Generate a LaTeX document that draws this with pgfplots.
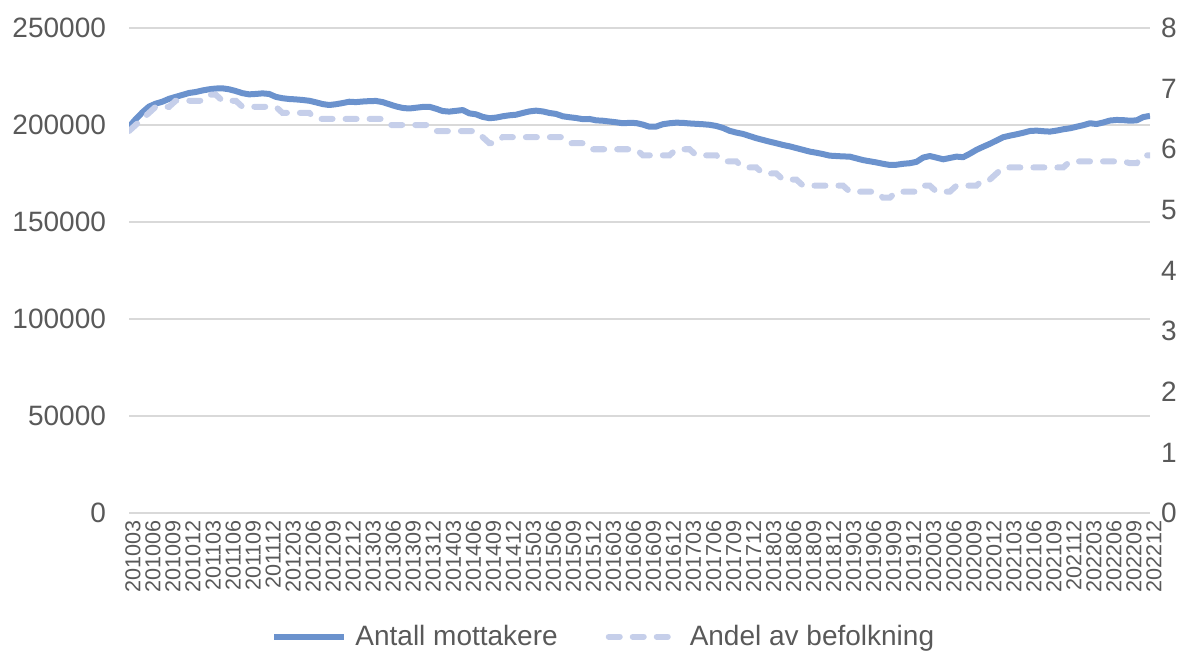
\documentclass[border=0pt]{standalone}
\usepackage{fontspec}
\setmainfont{Liberation Sans}
\usepackage{pgfplots}
\usepackage{pgfplotstable}
\pgfplotsset{compat=1.18}
\definecolor{antall}{HTML}{6B92CD}
\definecolor{andel}{HTML}{C6CFEA}
\definecolor{txt}{HTML}{595959}
\definecolor{gridc}{HTML}{D9D9D9}

% i = months since 2010-03; antall = number of recipients; andel = share of population (%)
\pgfplotstableread{
i antall andel
0 199000 6.3
1 203000 6.4
2 206500 6.5
3 209500 6.6
4 211000 6.7
5 212000 6.7
6 213500 6.7
7 214500 6.8
8 215500 6.8
9 216500 6.8
10 217000 6.8
11 217800 6.8
12 218400 6.9
13 218800 6.9
14 218900 6.8
15 218400 6.8
16 217500 6.8
17 216400 6.7
18 215800 6.7
19 216000 6.7
20 216300 6.7
21 216000 6.7
22 214500 6.7
23 213800 6.6
24 213400 6.6
25 213200 6.6
26 212900 6.6
27 212500 6.6
28 211700 6.5
29 210800 6.5
30 210300 6.5
31 210700 6.5
32 211300 6.5
33 212000 6.5
34 211800 6.5
35 212100 6.5
36 212300 6.5
37 212400 6.5
38 211800 6.5
39 210700 6.4
40 209600 6.4
41 208800 6.4
42 208500 6.4
43 208900 6.4
44 209300 6.4
45 209400 6.4
46 208400 6.3
47 207200 6.3
48 206900 6.3
49 207300 6.3
50 207700 6.3
51 206000 6.3
52 205500 6.3
53 204200 6.2
54 203500 6.1
55 203800 6.1
56 204500 6.2
57 205000 6.2
58 205300 6.2
59 206200 6.2
60 207000 6.2
61 207400 6.2
62 207000 6.2
63 206200 6.2
64 205700 6.2
65 204500 6.2
66 204000 6.1
67 203600 6.1
68 203000 6.1
69 203100 6.0
70 202400 6.0
71 202200 6.0
72 201800 6.0
73 201400 6.0
74 200900 6.0
75 201100 6.0
76 201000 6.0
77 200200 5.9
78 199100 5.9
79 199200 5.9
80 200400 5.9
81 200900 5.9
82 201200 6.0
83 201100 6.0
84 200800 6.0
85 200600 5.9
86 200400 5.9
87 200100 5.9
88 199500 5.9
89 198500 5.8
90 197000 5.8
91 196100 5.8
92 195400 5.7
93 194300 5.7
94 193200 5.7
95 192300 5.6
96 191400 5.6
97 190600 5.6
98 189700 5.5
99 189000 5.5
100 188100 5.5
101 187200 5.4
102 186300 5.4
103 185700 5.4
104 185000 5.4
105 184200 5.4
106 184000 5.4
107 183800 5.4
108 183700 5.3
109 182800 5.3
110 181900 5.3
111 181300 5.3
112 180700 5.3
113 180000 5.2
114 179400 5.2
115 179500 5.3
116 180000 5.3
117 180300 5.3
118 181000 5.3
119 183200 5.4
120 184000 5.4
121 183200 5.3
122 182300 5.3
123 183000 5.3
124 183700 5.4
125 183400 5.4
126 185200 5.4
127 187200 5.4
128 188800 5.5
129 190300 5.5
130 192000 5.6
131 193700 5.7
132 194500 5.7
133 195200 5.7
134 196000 5.7
135 196900 5.7
136 197100 5.7
137 196800 5.7
138 196600 5.7
139 197100 5.7
140 197800 5.7
141 198300 5.8
142 199100 5.8
143 199900 5.8
144 200900 5.8
145 200500 5.8
146 201300 5.8
147 202300 5.8
148 202600 5.8
149 202500 5.8
150 202200 5.77
151 202400 5.77
152 204100 5.9
153 204700 5.9
}\series

\begin{document}
\begin{tikzpicture}
\path[use as bounding box] (-64.5pt,-69pt) rectangle (528.5pt,256.5pt);
\pgfplotsset{
  base/.style={
    scale only axis, width=510.5pt, height=242.5pt,
    at={(0,0)}, anchor=south west,
    xmin=0, xmax=153,
    major tick length=0pt,
    axis line style={draw=none},
    scaled y ticks=false,
    yticklabel style={font=\fontsize{14}{16}\selectfont, text=txt,
      /pgf/number format/fixed, /pgf/number format/precision=0,
      /pgf/number format/1000 sep={},
      /pgf/number format/assume math mode=true},
  },
  dashline/.style={andel, line width=3pt, line cap=round, dash pattern=on 5.5pt off 6.5pt},
}
\begin{axis}[base,
  ymin=0, ymax=250000, ytick={0,50000,...,250000},
  axis x line*=bottom, axis y line*=left,
  ymajorgrids, grid style={gridc, line width=0.75pt},
  yticklabel style={xshift=-8pt},
  xtick={0,3,...,153},
  xticklabels={201003,201006,201009,201012,
    201103,201106,201109,201112,201203,201206,201209,201212,
    201303,201306,201309,201312,201403,201406,201409,201412,
    201503,201506,201509,201512,201603,201606,201609,201612,
    201703,201706,201709,201712,201803,201806,201809,201812,
    201903,201906,201909,201912,202003,202006,202009,202012,
    202103,202106,202109,202112,202203,202206,202209,202212},
  xticklabel style={rotate=90, anchor=east, yshift=-2pt,
    font=\fontsize{10.8}{12}\selectfont, text=txt},
  legend style={at={(0.466,-0.255)}, anchor=center, draw=none, fill=none,
    font=\fontsize{14}{16}\selectfont, text=txt, inner sep=0pt,
    /tikz/every even column/.append style={column sep=22pt}},
  legend columns=2,
  legend image code/.code={\draw[#1] (0pt,0pt) -- (35pt,0pt); \path (37pt,0pt);},
]
\addplot[antall, line width=3pt, line join=round] table[x=i, y=antall] {\series};
\addlegendentry{Antall mottakere}
\addlegendimage{dashline}
\addlegendentry{Andel av befolkning}
\end{axis}
\begin{axis}[base,
  ymin=0, ymax=8, ytick={0,1,...,8},
  axis x line=none, axis y line*=right,
  yticklabel style={anchor=west, xshift=2pt},
]
\addplot[dashline] table[x=i, y=andel] {\series};
\end{axis}
\end{tikzpicture}
\end{document}
